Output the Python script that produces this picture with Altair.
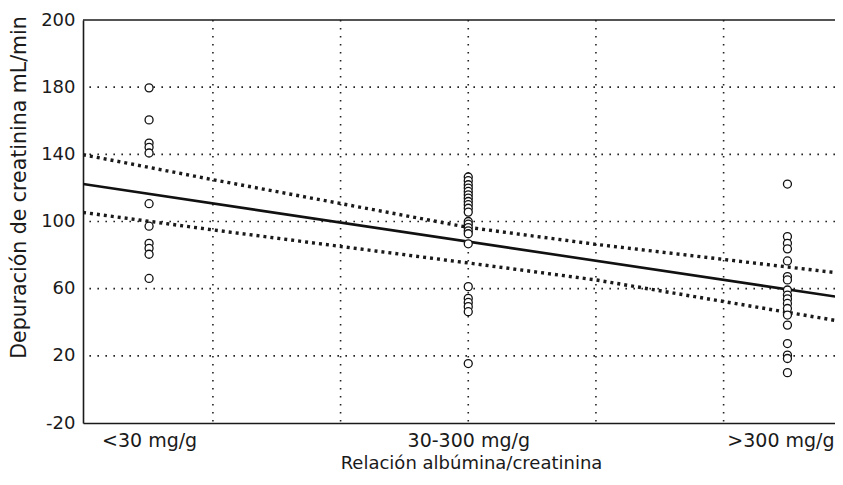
import altair as alt
import pandas as pd

# ---- data ----
cat_x = [1, 2, 3]
cat_labels = ["<30 mg/g", "30-300 mg/g", ">300 mg/g"]

vals_lt30 = [179.6, 160.5, 146.7, 144.2, 140.8, 110.6, 97.2, 87.0, 84.0, 80.5, 66.1]
vals_30_300 = [126.5, 124.3, 121.9, 119.9, 117.9, 115.9, 113.9, 111.9, 110.0, 107.9,
               105.6, 100.0, 98.4, 96.4, 94.4, 92.7, 86.7, 61.2, 54.2, 51.8, 49.3,
               46.3, 15.4]
vals_gt300 = [122.3, 91.0, 87.0, 83.7, 76.5, 67.2, 65.2, 59.2, 56.2, 53.9, 51.2,
              48.2, 44.3, 38.3, 27.3, 20.4, 18.4, 10.0]

fit_x = [0.793, 3.175]
fit_y = [122.3, 54.6]
band_x = [0.793, 1.2, 2.0, 2.4, 3.175]
upper_y = [139.8, 124.9, 96.5, 86.4, 69.0]
lower_y = [105.4, 95.0, 75.3, 65.2, 40.3]

y_ticks = [-20, 20, 60, 100, 140, 180, 220]
y_tick_labels = ["-20", "20", "60", "100", "140", "180", "200"]
x_grid = [1.2, 1.6, 2.0, 2.4, 2.8]
y_grid = [20, 60, 100, 140, 180]
y_top = [220]

x_title = "Relación albúmina/creatinina"
y_title = "Depuración de creatinina mL/min"

# ---- tables ----
pts = pd.DataFrame(
    [{"x": cat_x[0], "y": v} for v in vals_lt30]
    + [{"x": cat_x[1], "y": v} for v in vals_30_300]
    + [{"x": cat_x[2], "y": v} for v in vals_gt300]
)
fit = pd.DataFrame({"x": fit_x, "y": fit_y})
up = pd.DataFrame({"x": band_x, "y": upper_y})
lo = pd.DataFrame({"x": band_x, "y": lower_y})
xg = pd.DataFrame({"x": x_grid})
yg = pd.DataFrame({"y": y_grid})
yt = pd.DataFrame({"y": y_top})

FONT = "DejaVu Sans"

x_expr = " : ".join(
    f"datum.value == {v} ? '{l}'" for v, l in zip(cat_x, cat_labels)
) + " : ''"
y_expr = " : ".join(
    f"datum.value == {v} ? '{l}'" for v, l in zip(y_ticks, y_tick_labels)
) + " : ''"

x_scale = alt.Scale(domain=[0.793, 3.149], nice=False, zero=False)
y_scale = alt.Scale(domain=[-20, 220], nice=False, zero=False)

x_axis = alt.Axis(
    values=cat_x, labelExpr=x_expr, grid=False, ticks=False, labelPadding=8,
    labelFont=FONT, labelFontSize=19, labelColor="#1a1a1a", labelAngle=0,
    labelOffset={"condition": {"test": f"datum.value == {cat_x[2]}", "value": -7}, "value": 0},
    domainColor="#1a1a1a", domainWidth=1.6,
    title=x_title, titleFont=FONT, titleFontSize=18, titleFontWeight="normal",
    titleColor="#1a1a1a", titleX=388, titleY=40, titleBaseline="middle",
    titleAlign="center",
)
y_axis = alt.Axis(
    values=y_ticks, labelExpr=y_expr, grid=False, ticks=False, labelPadding=8,
    labelFont=FONT, labelFontSize=18, labelColor="#1a1a1a",
    domainColor="#1a1a1a", domainWidth=1.6,
    title=y_title, titleFont=FONT, titleFontSize=20.5, titleFontWeight="normal",
    titleColor="#1a1a1a", titleAngle=-90, titleX=-64, titleY=167,
    titleBaseline="middle", titleAlign="center",
)

base_x = alt.X("x:Q", scale=x_scale, axis=x_axis)
base_y = alt.Y("y:Q", scale=y_scale, axis=y_axis)

grid_style = dict(color="#222222", strokeWidth=1.6, strokeDash=[1.6, 6.4])

vgrid = alt.Chart(xg).mark_rule(**grid_style).encode(x=alt.X("x:Q", scale=x_scale, axis=x_axis))
hgrid = alt.Chart(yg).mark_rule(**grid_style).encode(y=alt.Y("y:Q", scale=y_scale, axis=y_axis))
top = alt.Chart(yt).mark_rule(color="#1a1a1a", strokeWidth=1.6).encode(
    y=alt.Y("y:Q", scale=y_scale, axis=y_axis))

band_style = dict(color="#1a1a1a", strokeWidth=3.4, strokeDash=[3, 4], strokeCap="butt", clip=True)
upper = alt.Chart(up).mark_line(**band_style).encode(x=base_x, y=base_y)
lower = alt.Chart(lo).mark_line(**band_style).encode(x=base_x, y=base_y)
fitline = alt.Chart(fit).mark_line(color="#111111", strokeWidth=2.6, clip=True).encode(x=base_x, y=base_y)

points = alt.Chart(pts).mark_point(
    shape="circle", size=64, filled=False, fill="white", fillOpacity=1,
    stroke="#111111", strokeWidth=1.3, opacity=1,
).encode(x=base_x, y=base_y)

chart = (
    alt.layer(vgrid, hgrid, top, upper, lower, fitline, points)
    .properties(
        width=752, height=403,
        autosize=alt.AutoSizeParams(type="none"),
        padding={"left": 75, "top": 12, "right": 0, "bottom": 49},
    )
    .configure_view(stroke=None)
)

chart.save("out.html", embed_options={"renderer": "svg", "actions": False})
